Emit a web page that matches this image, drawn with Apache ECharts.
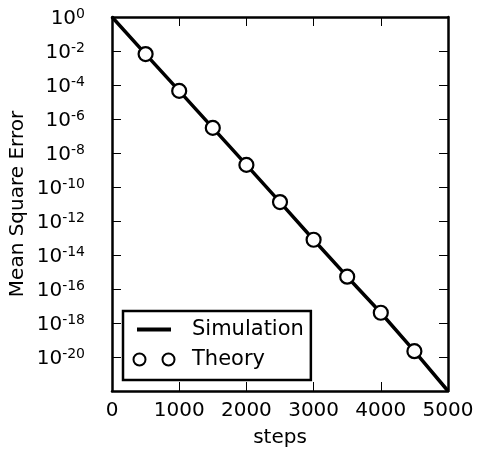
<!DOCTYPE html>
<html>
<head>
<meta charset="utf-8">
<script src="https://cdn.jsdelivr.net/npm/echarts@6/dist/echarts.min.js"></script>
<style>
  html, body { margin: 0; padding: 0; background: #fff; }
  #chart { width: 477px; height: 453px; }
</style>
</head>
<body>
<div id="chart"></div>
<script>
// values
var steps = [0, 500, 1000, 1500, 2000, 2500, 3000, 3500, 4000, 4500, 5000];
var simulation = [1, 6.6e-3, 4.5e-5, 3e-7, 2e-9, 1.3e-11, 7.9e-14, 5.3e-16, 4e-18, 2.2e-20, 1e-22];
var theorySteps = [500, 1000, 1500, 2000, 2500, 3000, 3500, 4000, 4500];
var theory = [6.6e-3, 4.5e-5, 3e-7, 2e-9, 1.3e-11, 7.9e-14, 5.3e-16, 4e-18, 2.2e-20];
var yMinExp = -22;
// log10(1e-22) comes out a hair above -22, which drops the bottom tick
var yMin = 0.9999e-22;

var font = "DejaVu Sans";
var myChart = echarts.init(document.getElementById("chart"));

var simData = steps.map(function (s, i) { return [s, simulation[i]]; });
var theoryData = theorySteps.map(function (s, i) { return [s, theory[i]]; });

// 10^n with superscript (the min tick can come through rounded to 0)
function powLabel(v) {
  var e = v > 0 ? Math.round(Math.log10(v)) : yMinExp;
  return "{b|10}{s|" + e + "}";
}

var tick = { show: true, inside: true, length: 9, lineStyle: { color: "#000", width: 1 } };
var frame = { show: true, onZero: false, lineStyle: { color: "#000", width: 2.5 } };

var option = {
  animation: false,
  backgroundColor: "#fff",
  grid: { left: 112, right: 29, top: 17, bottom: 62, outerBoundsMode: "none" },
  legend: {
    orient: "vertical",
    left: 123,
    top: 311,
    padding: [8, 7, 10, 9],
    itemGap: 9,
    itemWidth: 42,
    itemHeight: 16,
    borderColor: "#000",
    borderWidth: 2.5,
    borderRadius: 0,
    backgroundColor: "#fff",
    textStyle: { fontFamily: font, fontSize: 21, lineHeight: 20, color: "#000", padding: [0, 0, 0, 12] },
    data: [
      { name: "Simulation", icon: "path://M4,6H38V10H4Z M0,0 M42,16" },
      { name: "Theory", icon: "path://M0.5,8a6,6 0 1,0 12,0a6,6 0 1,0 -12,0Z M29.5,8a6,6 0 1,0 12,0a6,6 0 1,0 -12,0Z M0,0 M42,16" }
    ]
  },
  xAxis: [
    {
      type: "value",
      min: 0,
      max: 5000,
      interval: 1000,
      name: "steps",
      nameLocation: "middle",
      nameGap: 37,
      nameMoveOverlap: false,
      nameTextStyle: { fontFamily: font, fontSize: 20, color: "#000" },
      axisLine: frame,
      axisTick: tick,
      axisLabel: {
        fontFamily: font, fontSize: 20, color: "#000", margin: 10,
        formatter: function (v) { return String(v); }
      },
      splitLine: { show: false }
    },
    {
      type: "value",
      position: "top",
      min: 0,
      max: 5000,
      interval: 1000,
      axisLine: frame,
      axisTick: tick,
      axisLabel: { show: false },
      splitLine: { show: false }
    }
  ],
  yAxis: [
    {
      type: "log",
      logBase: 10,
      min: yMin,
      max: 1,
      interval: 2,
      name: "Mean Square Error",
      nameLocation: "middle",
      nameGap: 84,
      nameMoveOverlap: false,
      nameTextStyle: { fontFamily: font, fontSize: 20, color: "#000" },
      axisLine: frame,
      axisTick: tick,
      axisLabel: {
        margin: 27,
        showMinLabel: true,
        showMaxLabel: true,
        formatter: powLabel,
        rich: {
          b: { fontFamily: font, fontSize: 20, lineHeight: 20, color: "#000", padding: [4, 0, 0, 0] },
          s: { fontFamily: font, fontSize: 14, lineHeight: 14, color: "#000", verticalAlign: "top" }
        }
      },
      splitLine: { show: false }
    },
    {
      type: "log",
      logBase: 10,
      min: yMin,
      max: 1,
      interval: 2,
      position: "right",
      axisLine: frame,
      axisTick: tick,
      axisLabel: { show: false },
      splitLine: { show: false }
    }
  ],
  series: [
    {
      name: "Simulation",
      type: "line",
      data: simData,
      showSymbol: false,
      symbol: "none",
      lineStyle: { color: "#000", width: 3.5 },
      itemStyle: { color: "#000" },
      z: 2
    },
    {
      name: "Theory",
      type: "scatter",
      data: theoryData,
      symbol: "circle",
      symbolSize: 14,
      itemStyle: { color: "#fff", borderColor: "#000", borderWidth: 2.2, opacity: 1 },
      z: 3
    }
  ]
};

myChart.setOption(option);
</script>
</body>
</html>
